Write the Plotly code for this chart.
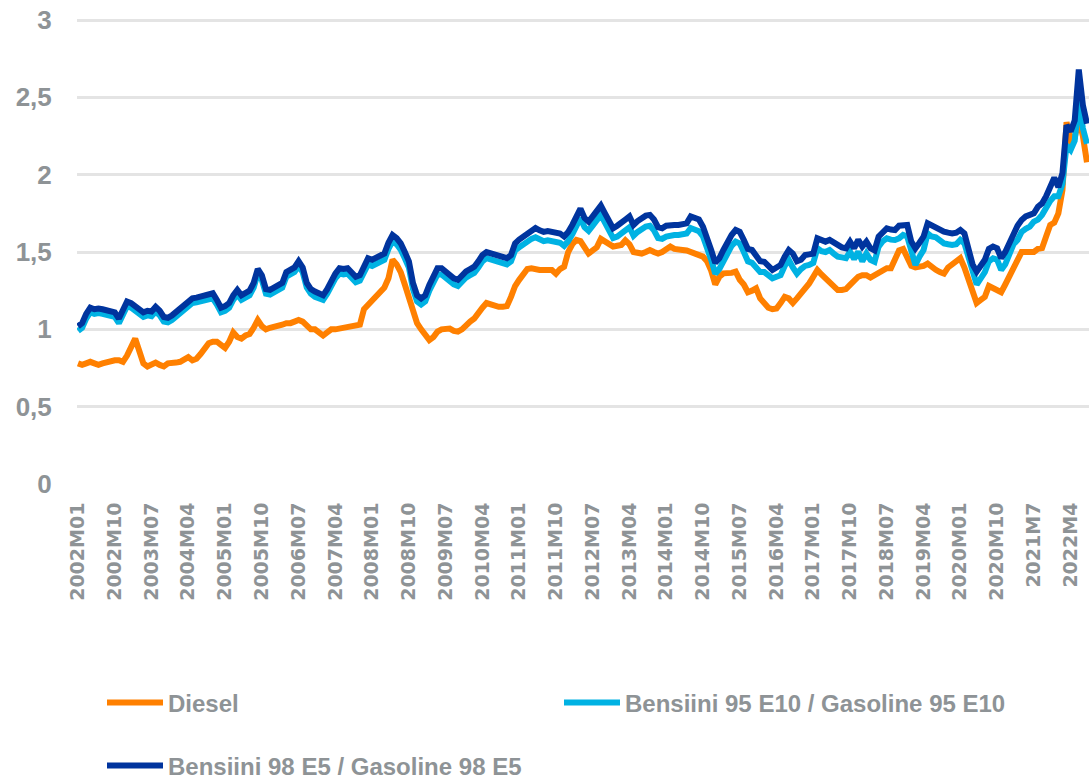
import plotly.graph_objects as go

# Monthly categories 2002M01 .. 2022M08
months = [f"{y}M{m:02d}" for y in range(2002, 2023) for m in range(1, 13)][:248]

tick_vals = months[0:244:9]
tick_text = ["2002M01", "2002M10", "2003M07", "2004M04", "2005M01", "2005M10", "2006M07",
             "2007M04", "2008M01", "2008M10", "2009M07", "2010M04", "2011M01", "2011M10",
             "2012M07", "2013M04", "2014M01", "2014M10", "2015M07", "2016M04", "2017M01",
             "2017M10", "2018M07", "2019M04", "2020M01", "2020M10", "2021M7", "2022M4"]

diesel = [
    0.78, 0.77, 0.78, 0.79, 0.78, 0.77, 0.78, 0.79, 0.79, 0.80, 0.80, 0.79,   # 2002
    0.83, 0.88, 0.94, 0.86, 0.78, 0.76, 0.77, 0.785, 0.77, 0.76, 0.78, 0.78,  # 2003
    0.785, 0.79, 0.80, 0.82, 0.80, 0.81, 0.84, 0.87, 0.91, 0.92, 0.92, 0.90,  # 2004
    0.88, 0.92, 0.98, 0.95, 0.94, 0.96, 0.97, 1.01, 1.06, 1.02, 1.00, 1.01,   # 2005
    1.015, 1.02, 1.03, 1.04, 1.04, 1.05, 1.06, 1.05, 1.02, 1.00, 1.00, 0.98,  # 2006
    0.96, 0.98, 1.00, 1.00, 1.005, 1.01, 1.01, 1.02, 1.025, 1.03, 1.13, 1.16, # 2007
    1.18, 1.21, 1.24, 1.27, 1.33, 1.45, 1.42, 1.37, 1.29, 1.20, 1.12, 1.04,   # 2008
    1.00, 0.97, 0.93, 0.95, 0.985, 1.00, 1.005, 1.005, 0.99, 0.985, 1.00, 1.03,  # 2009
    1.05, 1.07, 1.11, 1.14, 1.17, 1.16, 1.146, 1.146, 1.146, 1.15, 1.21, 1.28,   # 2010
    1.32, 1.36, 1.39, 1.395, 1.385, 1.384, 1.384, 1.38, 1.384, 1.36, 1.39, 1.405,  # 2011
    1.50, 1.55, 1.578, 1.57, 1.53, 1.49, 1.51, 1.53, 1.585, 1.57, 1.55, 1.535,  # 2012
    1.54, 1.545, 1.575, 1.55, 1.50, 1.49, 1.49, 1.50, 1.513, 1.50, 1.49, 1.50,  # 2013
    1.52, 1.535, 1.52, 1.513, 1.513, 1.51, 1.50, 1.50, 1.49, 1.47, 1.44, 1.38,  # 2014
    1.29, 1.34, 1.362, 1.362, 1.365, 1.373, 1.32, 1.29, 1.24, 1.25, 1.265, 1.20,  # 2015
    1.168, 1.14, 1.13, 1.135, 1.17, 1.21, 1.20, 1.17, 1.20, 1.23, 1.26, 1.297,  # 2016
    1.34, 1.384, 1.355, 1.33, 1.297, 1.27, 1.254, 1.254, 1.26, 1.287, 1.31, 1.34,  # 2017
    1.35, 1.35, 1.335, 1.35, 1.37, 1.39, 1.395, 1.395, 1.45, 1.51, 1.52, 1.46,  # 2018
    1.41, 1.40, 1.405, 1.41, 1.425, 1.40, 1.385, 1.37, 1.36, 1.40, 1.42, 1.44,  # 2019
    1.46, 1.40, 1.32, 1.23, 1.17, 1.19, 1.21, 1.28, 1.27, 1.25, 1.24, 1.29,   # 2020
    1.34, 1.40, 1.45, 1.50, 1.50, 1.50, 1.50, 1.52, 1.525, 1.60, 1.675, 1.69,  # 2021
    1.75, 1.90, 2.34, 2.22, 2.24, 2.36, 2.25, 2.08,                            # 2022
]

gasoline_95_e10 = [
    0.99, 1.01, 1.07, 1.11, 1.10, 1.105, 1.10, 1.095, 1.09, 1.08, 1.04, 1.10,
    1.15, 1.14, 1.12, 1.09, 1.08, 1.09, 1.085, 1.115, 1.09, 1.05, 1.045, 1.06,
    1.08, 1.105, 1.12, 1.14, 1.17, 1.175, 1.18, 1.185, 1.19, 1.20, 1.16, 1.11,
    1.12, 1.14, 1.19, 1.225, 1.19, 1.21, 1.22, 1.27, 1.36, 1.32, 1.23, 1.225,
    1.24, 1.245, 1.27, 1.34, 1.35, 1.37, 1.41, 1.37, 1.27, 1.23, 1.21, 1.20,
    1.19, 1.23, 1.29, 1.33, 1.36, 1.355, 1.36, 1.325, 1.305, 1.315, 1.365, 1.42,
    1.41, 1.42, 1.435, 1.45, 1.52, 1.57, 1.55, 1.515, 1.46, 1.40, 1.26, 1.18,
    1.16, 1.18, 1.25, 1.30, 1.355, 1.355, 1.33, 1.31, 1.29, 1.28, 1.31, 1.335,
    1.35, 1.365, 1.40, 1.44, 1.46, 1.45, 1.445, 1.44, 1.43, 1.42, 1.44, 1.51,
    1.53, 1.55, 1.565, 1.585, 1.595, 1.58, 1.57, 1.575, 1.57, 1.565, 1.56, 1.54,
    1.57, 1.615, 1.67, 1.72, 1.66, 1.636, 1.67, 1.71, 1.74, 1.69, 1.635, 1.59,
    1.60, 1.615, 1.64, 1.66, 1.605, 1.63, 1.65, 1.665, 1.67, 1.64, 1.59, 1.585,
    1.60, 1.61, 1.61, 1.61, 1.615, 1.62, 1.655, 1.645, 1.635, 1.60, 1.535, 1.45,
    1.36, 1.39, 1.44, 1.50, 1.54, 1.567, 1.555, 1.50, 1.44, 1.43, 1.40, 1.37,
    1.37, 1.35, 1.33, 1.34, 1.35, 1.41, 1.449, 1.40, 1.36, 1.39, 1.41, 1.416,
    1.43, 1.524, 1.505, 1.50, 1.513, 1.49, 1.47, 1.465, 1.46, 1.502, 1.455, 1.502,
    1.44, 1.49, 1.449, 1.437, 1.535, 1.57, 1.588, 1.58, 1.578, 1.588, 1.61, 1.60,
    1.513, 1.416, 1.47, 1.513, 1.62, 1.60, 1.595, 1.575, 1.556, 1.55, 1.545, 1.55,
    1.578, 1.556, 1.46, 1.35, 1.29, 1.33, 1.37, 1.44, 1.459, 1.45, 1.384, 1.42,
    1.49, 1.55, 1.578, 1.63, 1.65, 1.664, 1.696, 1.71, 1.74, 1.79, 1.83, 1.86,
    1.86, 1.94, 2.19, 2.16, 2.22, 2.48, 2.30, 2.20,
]

gasoline_98_e5 = [
    1.02, 1.04, 1.10, 1.14, 1.13, 1.135, 1.13, 1.125, 1.12, 1.11, 1.07, 1.13,
    1.18, 1.17, 1.15, 1.12, 1.11, 1.12, 1.115, 1.145, 1.12, 1.08, 1.075, 1.09,
    1.11, 1.135, 1.15, 1.17, 1.20, 1.205, 1.21, 1.215, 1.22, 1.233, 1.19, 1.14,
    1.15, 1.17, 1.22, 1.255, 1.22, 1.24, 1.25, 1.30, 1.39, 1.35, 1.26, 1.255,
    1.27, 1.275, 1.30, 1.37, 1.38, 1.40, 1.44, 1.40, 1.30, 1.26, 1.244, 1.23,
    1.22, 1.26, 1.32, 1.36, 1.395, 1.39, 1.395, 1.36, 1.34, 1.35, 1.40, 1.46,
    1.45, 1.46, 1.475, 1.49, 1.56, 1.61, 1.59, 1.556, 1.50, 1.44, 1.30, 1.22,
    1.20, 1.22, 1.287, 1.34, 1.395, 1.395, 1.37, 1.35, 1.33, 1.32, 1.35, 1.374,
    1.39, 1.405, 1.44, 1.48, 1.50, 1.49, 1.485, 1.48, 1.47, 1.46, 1.48, 1.556,
    1.58, 1.60, 1.62, 1.64, 1.655, 1.64, 1.63, 1.635, 1.63, 1.625, 1.62, 1.60,
    1.63, 1.675, 1.73, 1.78, 1.72, 1.696, 1.73, 1.77, 1.80, 1.75, 1.70, 1.653,
    1.67, 1.685, 1.71, 1.73, 1.675, 1.70, 1.72, 1.735, 1.74, 1.71, 1.66, 1.653,
    1.67, 1.675, 1.675, 1.675, 1.68, 1.685, 1.73, 1.72, 1.71, 1.664, 1.60, 1.513,
    1.43, 1.46, 1.513, 1.57, 1.61, 1.642, 1.63, 1.578, 1.52, 1.513, 1.48, 1.44,
    1.437, 1.41, 1.384, 1.40, 1.416, 1.47, 1.513, 1.49, 1.44, 1.45, 1.48, 1.485,
    1.49, 1.588, 1.575, 1.567, 1.578, 1.56, 1.545, 1.53, 1.524, 1.567, 1.524, 1.578,
    1.535, 1.567, 1.524, 1.51, 1.60, 1.63, 1.653, 1.645, 1.642, 1.67, 1.675, 1.675,
    1.567, 1.524, 1.56, 1.60, 1.685, 1.67, 1.664, 1.65, 1.632, 1.625, 1.62, 1.625,
    1.642, 1.62, 1.53, 1.42, 1.373, 1.41, 1.45, 1.52, 1.535, 1.524, 1.46, 1.50,
    1.556, 1.62, 1.67, 1.707, 1.73, 1.74, 1.75, 1.793, 1.814, 1.86, 1.93, 1.98,
    1.92, 2.01, 2.32, 2.28, 2.35, 2.68, 2.45, 2.33,
]

y_tick_vals = [0, 0.5, 1, 1.5, 2, 2.5, 3]

GRAY = "#8E9396"
TEXT_FONT = "Liberation Sans, Arial, sans-serif"

W, H = 1089, 783


def cx(px):
    return px / W


def cy(py):
    return 1 - py / H


fig = go.Figure()
fig.add_trace(go.Scatter(x=months, y=diesel, mode="lines", name="Diesel",
                         line=dict(color="#FF8000", width=6), legend="legend"))
fig.add_trace(go.Scatter(x=months, y=gasoline_95_e10, mode="lines",
                         name="Bensiini 95 E10 / Gasoline 95 E10",
                         line=dict(color="#00B2E3", width=6), legend="legend2"))
fig.add_trace(go.Scatter(x=months, y=gasoline_98_e5, mode="lines",
                         name="Bensiini 98 E5 / Gasoline 98 E5",
                         line=dict(color="#00349E", width=6), legend="legend3"))

legend_common = dict(
    orientation="h", xref="container", yref="container",
    xanchor="left", yanchor="middle",
    font=dict(family=TEXT_FONT, size=24, color=GRAY, weight="bold"),
    bgcolor="rgba(0,0,0,0)", itemwidth=56,
    itemclick=False, itemdoubleclick=False,
)

fig.update_layout(
    width=W, height=H,
    margin=dict(l=77, r=0, t=18, b=299),
    paper_bgcolor="white", plot_bgcolor="white",
    separators=", ",
    showlegend=True,
    legend=dict(x=cx(102), y=cy(703), **legend_common),
    legend2=dict(x=cx(559), y=cy(703), **legend_common),
    legend3=dict(x=cx(102), y=cy(766), **legend_common),
    xaxis=dict(
        type="category", categoryorder="array", categoryarray=months,
        range=[-0.25, 247.5],
        tickmode="array", tickvals=tick_vals, ticktext=tick_text,
        tickangle=-90, showgrid=False, showline=False, zeroline=False,
        ticks="outside", ticklen=10, tickcolor="rgba(0,0,0,0)",
        ticklabeloverflow="allow",
        tickfont=dict(family="DejaVu Sans", size=19, color=GRAY, weight="bold"),
    ),
    yaxis=dict(
        range=[0, 3.013], tickmode="array", tickvals=y_tick_vals,
        showgrid=True, gridcolor="#E4E4E4", gridwidth=3,
        zeroline=False, showline=False,
        ticks="outside", ticklen=19, tickcolor="rgba(0,0,0,0)",
        ticklabeloverflow="allow",
        tickfont=dict(family=TEXT_FONT, size=26, color=GRAY, weight="bold"),
    ),
)

# Remove the default page margin so the 1089x783 figure fills the window exactly.
fig.write_html("out.html",
               config={"displayModeBar": False},
               post_script="document.body.style.margin='0';document.body.style.overflow='hidden';")
